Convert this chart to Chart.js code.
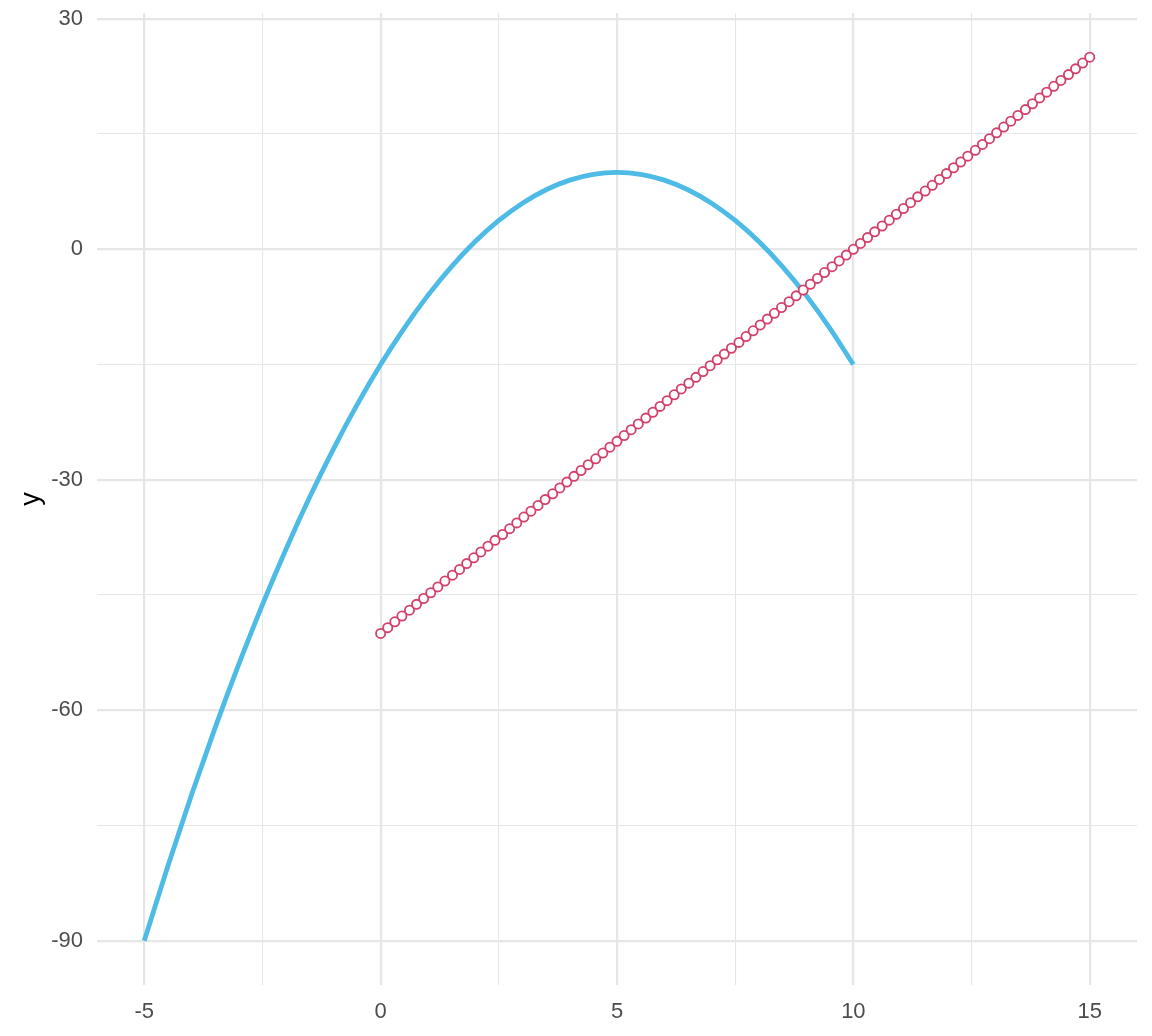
<!DOCTYPE html>
<html>
<head>
<meta charset="utf-8">
<script src="https://cdn.jsdelivr.net/npm/chart.js@4/dist/chart.umd.min.js"></script>
<style>
  html, body { margin: 0; padding: 0; background: #fff; }
  #wrap { width: 1152px; height: 1036px; }
</style>
</head>
<body>
<div id="wrap"><canvas id="plot"></canvas></div>
<script>
// curve (blue line)
const curveX = [-5, -4.5, -4, -3.5, -3, -2.5, -2, -1.5, -1, -0.5, 0, 0.5, 1, 1.5, 2, 2.5, 3, 3.5, 4, 4.5, 5, 5.5, 6, 6.5, 7, 7.5, 8, 8.5, 9, 9.5, 10]
const curveY = [-90, -80.25, -71, -62.25, -54, -46.25, -39, -32.25, -26, -20.25, -15, -10.25, -6, -2.25, 1, 3.75, 6, 7.75, 9, 9.75, 10, 9.75, 9, 7.75, 6, 3.75, 1, -2.25, -6, -10.25, -15]

// points (red open circles)
const pointX = [0.00, 0.15, 0.30, 0.45, 0.61, 0.76, 0.91, 1.06, 1.21, 1.36,
  1.52, 1.67, 1.82, 1.97, 2.12, 2.27, 2.42, 2.58, 2.73, 2.88,
  3.03, 3.18, 3.33, 3.48, 3.64, 3.79, 3.94, 4.09, 4.24, 4.39,
  4.55, 4.70, 4.85, 5.00, 5.15, 5.30, 5.45, 5.61, 5.76, 5.91,
  6.06, 6.21, 6.36, 6.52, 6.67, 6.82, 6.97, 7.12, 7.27, 7.42,
  7.58, 7.73, 7.88, 8.03, 8.18, 8.33, 8.48, 8.64, 8.79, 8.94,
  9.09, 9.24, 9.39, 9.55, 9.70, 9.85, 10.00, 10.15, 10.30, 10.45,
  10.61, 10.76, 10.91, 11.06, 11.21, 11.36, 11.52, 11.67, 11.82, 11.97,
  12.12, 12.27, 12.42, 12.58, 12.73, 12.88, 13.03, 13.18, 13.33, 13.48,
  13.64, 13.79, 13.94, 14.09, 14.24, 14.39, 14.55, 14.70, 14.85, 15.00]
const pointY = [-50.00, -49.24, -48.48, -47.73, -46.97, -46.21, -45.45, -44.70, -43.94, -43.18,
  -42.42, -41.67, -40.91, -40.15, -39.39, -38.64, -37.88, -37.12, -36.36, -35.61,
  -34.85, -34.09, -33.33, -32.58, -31.82, -31.06, -30.30, -29.55, -28.79, -28.03,
  -27.27, -26.52, -25.76, -25.00, -24.24, -23.48, -22.73, -21.97, -21.21, -20.45,
  -19.70, -18.94, -18.18, -17.42, -16.67, -15.91, -15.15, -14.39, -13.64, -12.88,
  -12.12, -11.36, -10.61, -9.85, -9.09, -8.33, -7.58, -6.82, -6.06, -5.30,
  -4.55, -3.79, -3.03, -2.27, -1.52, -0.76, 0.00, 0.76, 1.52, 2.27,
  3.03, 3.79, 4.55, 5.30, 6.06, 6.82, 7.58, 8.33, 9.09, 9.85,
  10.61, 11.36, 12.12, 12.88, 13.64, 14.39, 15.15, 15.91, 16.67, 17.42,
  18.18, 18.94, 19.70, 20.45, 21.21, 21.97, 22.73, 23.48, 24.24, 25.00]

// grid lines: majors are labelled, minors are not
const xMajor = [-5, 0, 5, 10, 15]
const xGrid = [-5, -2.5, 0, 2.5, 5, 7.5, 10, 12.5, 15]
const yMajor = [-90, -60, -30, 0, 30]
const yGrid = [-90, -75, -60, -45, -30, -15, 0, 15, 30]

const gridCol = '#e6e6e6'
const tickFont = {family: 'Liberation Sans, Arial, sans-serif', size: 22}

function setTicks(list) {
    return function(scale) {
        scale.ticks = list.map(v => ({value: v}))
    }
}

let ctx = document.querySelector('#plot').getContext('2d')

let chart = new Chart(ctx, {
    type: 'scatter',
    data: {
        datasets: [
            {
                label: 'curve',
                type: 'line',
                data: curveX.map((x, i) => ({x: x, y: curveY[i]})),
                borderColor: '#4DBBE6',
                borderWidth: 4.8,
                pointRadius: 0,
                fill: false,
                cubicInterpolationMode: 'monotone',
                order: 2
            },
            {
                label: 'points',
                data: pointX.map((x, i) => ({x: x, y: pointY[i]})),
                borderColor: '#D3416A',
                backgroundColor: '#ffffff',
                borderWidth: 1.8,
                pointRadius: 4.6,
                order: 1
            }
        ]
    },
    options: {
        responsive: true,
        maintainAspectRatio: false,
        animation: false,
        layout: {padding: {top: 13, right: 15, left: 0, bottom: 0}},
        plugins: {legend: {display: false}, tooltip: {enabled: false}},
        scales: {
            x: {
                type: 'linear',
                min: -6,
                max: 16,
                afterBuildTicks: setTicks(xGrid),
                afterFit: function(scale) {
                    scale.height = 51
                    scale.paddingLeft = 0
                    scale.paddingRight = 0
                },
                border: {display: false},
                grid: {
                    color: gridCol,
                    drawTicks: false,
                    lineWidth: c => xMajor.includes(c.tick.value) ? 2.2 : 1.1
                },
                ticks: {
                    padding: 14,
                    color: '#4d4d4d',
                    font: tickFont,
                    maxRotation: 0,
                    autoSkip: false,
                    callback: v => xMajor.includes(v) ? String(v) : ''
                }
            },
            y: {
                type: 'linear',
                min: -95.75,
                max: 30.75,
                afterBuildTicks: setTicks(yGrid),
                afterFit: function(scale) {
                    scale.width = 97
                    scale.paddingTop = 0
                    scale.paddingBottom = 0
                },
                border: {display: false},
                grid: {
                    color: gridCol,
                    drawTicks: false,
                    lineWidth: c => yMajor.includes(c.tick.value) ? 2.2 : 1.1
                },
                title: {
                    display: true,
                    text: 'y',
                    color: '#000',
                    font: {family: 'Liberation Sans, Arial, sans-serif', size: 27},
                    padding: {top: 15, bottom: 0}
                },
                ticks: {
                    padding: 14,
                    color: '#4d4d4d',
                    font: tickFont,
                    autoSkip: false,
                    callback: v => yMajor.includes(v) ? String(v) : ''
                }
            }
        }
    }
})
</script>
</body>
</html>
